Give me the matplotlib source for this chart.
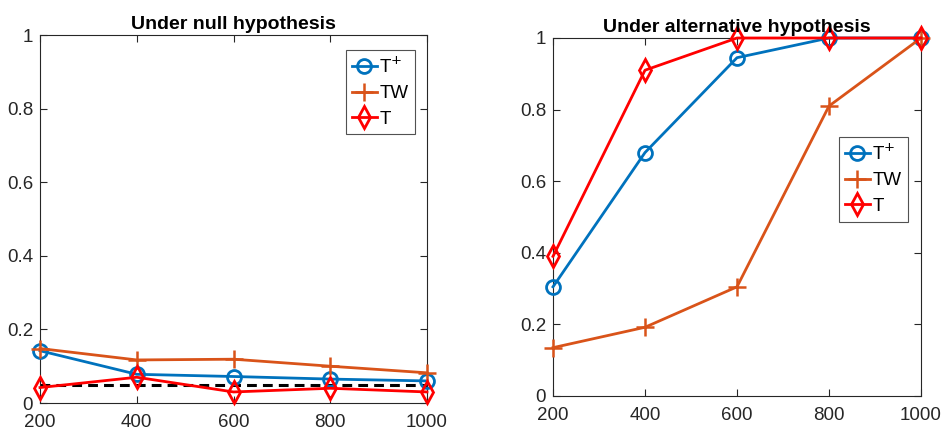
import matplotlib
matplotlib.use("Agg")
import matplotlib.pyplot as plt

plt.rcParams['font.family'] = ['Liberation Sans Narrow', 'Liberation Sans', 'DejaVu Sans']

n = [200, 400, 600, 800, 1000]
null_tplus = [0.142, 0.078, 0.072, 0.065, 0.060]
null_tw = [0.148, 0.117, 0.119, 0.100, 0.082]
null_t = [0.042, 0.070, 0.030, 0.040, 0.030]
null_level = [0.05, 0.05, 0.05, 0.05, 0.05]

alt_tplus = [0.305, 0.680, 0.945, 1.000, 1.000]
alt_tw = [0.135, 0.192, 0.305, 0.810, 1.000]
alt_t = [0.390, 0.910, 1.000, 1.000, 1.000]

labels = ['T$^{+}$', 'TW', 'T']
titles = ['Under null hypothesis', 'Under alternative hypothesis']

blue = '#0072BD'
orange = '#D95319'
red = '#FF0000'

fig = plt.figure(figsize=(9.42, 4.32), dpi=100)
W, H = 942, 432
ax1 = fig.add_axes([40 / W, 1 - 403 / H, (427 - 40) / W, (403 - 35) / H])
ax2 = fig.add_axes([553 / W, 1 - 396 / H, (921 - 553) / W, (396 - 38) / H])

def style(ax):
    ax.set_xlim(200, 1000)
    ax.set_ylim(0, 1)
    ax.set_xticks(n)
    ax.set_yticks([0, 0.2, 0.4, 0.6, 0.8, 1])
    ax.set_yticklabels(['0', '0.2', '0.4', '0.6', '0.8', '1'])
    ax.tick_params(direction='in', top=True, right=True, labelsize=13.5, colors='#262626',
                   length=5, width=0.8)
    ax.tick_params(axis='x', pad=8)
    ax.tick_params(axis='y', pad=5)
    for s in ax.spines.values():
        s.set_color('#262626')
        s.set_linewidth(0.8)

for ax, tp, tw, t, title in [(ax1, null_tplus, null_tw, null_t, titles[0]),
                             (ax2, alt_tplus, alt_tw, alt_t, titles[1])]:
    ax.plot(n, tp, '-o', color=blue, lw=2, ms=10, mfc='none', mew=2, label=labels[0],
            clip_on=False, zorder=3)
    ax.plot(n, tw, '-+', color=orange, lw=2, ms=13, mew=1.8, label=labels[1],
            clip_on=False, zorder=3)
    ax.plot(n, t, '-d', color=red, lw=2, ms=11, mfc='none', mew=2, label=labels[2],
            clip_on=False, zorder=3)
    style(ax)
    ax.set_title(title, fontsize=14, fontweight='bold', pad=4)

ax1.plot(n, null_level, '--', color='black', lw=2.2, dashes=(3.2, 2), zorder=2)

common = dict(fontsize=13.5, frameon=True, fancybox=False, edgecolor='#262626',
              handlelength=1.3, handletextpad=0.15, borderpad=0.35, labelspacing=0.45,
              borderaxespad=0)
leg1 = ax1.legend(loc='upper right', bbox_to_anchor=(0.969, 0.959), **common)
leg2 = ax2.legend(loc='upper right', bbox_to_anchor=(0.965, 0.723), **common)
for leg in (leg1, leg2):
    leg.get_frame().set_linewidth(0.8)

fig.savefig('out.png', dpi=100)
